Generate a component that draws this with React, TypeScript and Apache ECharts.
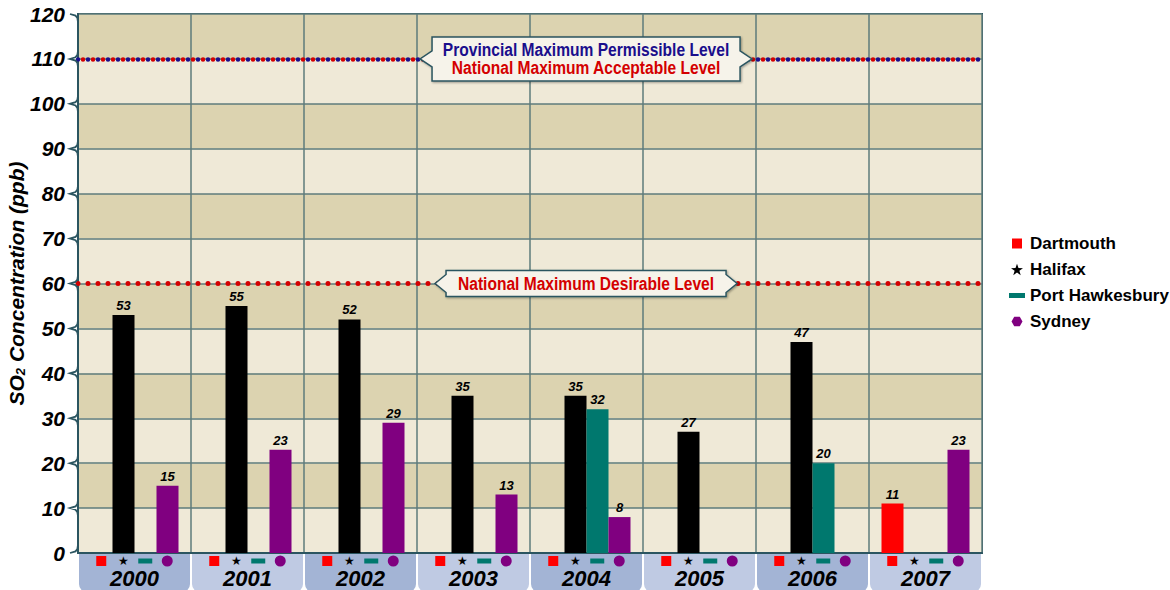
import { useEffect, useRef } from "react";
import * as echarts from "echarts";

// Annual maximum 1-hour SO2 concentrations (ppb) by monitoring station
const years = ["2000", "2001", "2002", "2003", "2004", "2005", "2006", "2007"];
const dartmouth = [null, null, null, null, null, null, null, 11];
const halifax = [53, 55, 52, 35, 35, 27, 47, null];
const portHawkesbury = [null, null, null, null, 32, null, 20, null];
const sydney = [15, 23, 29, 13, 8, null, null, 23];

// Value axis range and step
const yMin = 0;
const yMax = 120;
const yStep = 10;

// Objective levels (ppb)
const provincialPermissible = 110;
const nationalAcceptable = 110;
const nationalDesirable = 60;

const HEAVY = "'Liberation Sans', Arial, sans-serif";

const GRID_LEFT = 78;
const GRID_RIGHT = 188;
const GRID_TOP = 14;
const GRID_BOTTOM = 37;
const WIDTH = 1170;
const HEIGHT = 590;

const RED = "#ff0000";
const BLACK = "#000000";
const TEAL = "#00786e";
const PURPLE = "#800080";
const NAVY = "#1a0e8c";
const DEEP_RED = "#d40000";
const AXIS_DARK = "#2b5560";
const GRID_LINE = "#5e7b7b";

// Legend icons: a leading "M0 0M16 12" fixes the icon box at 16x12 so shapes keep their size
const ICON_SQUARE = "path://M0 0M16 12M3 1H13V11H3Z";
const ICON_STAR =
  "path://M0 0M16 12M8 0.3L9.47 4.58L13.99 4.65L10.38 7.37L11.7 11.7L8 9.1L4.3 11.7L5.62 7.37L2.01 4.65L6.53 4.58Z";
const ICON_BAR = "path://M0 0M16 12M0 3.5H16V8.5H0Z";
const ICON_HEX = "path://M0 0M16 12M2.5 6L5.25 1.24L10.75 1.24L13.5 6L10.75 10.76L5.25 10.76Z";

function arrowBox(cx: number, cy: number, halfW: number, halfH: number, tip: number, notch: number) {
  const l = cx - halfW;
  const r = cx + halfW;
  return [
    [l, cy - halfH],
    [r, cy - halfH],
    [r, cy - notch],
    [r + tip, cy],
    [r, cy + notch],
    [r, cy + halfH],
    [l, cy + halfH],
    [l, cy + notch],
    [l - tip, cy],
    [l, cy - notch],
  ];
}

// Condensed bold caption: a regular bold face squeezed horizontally
function captionEl(x: number, y: number, text: string, color: string) {
  return {
    type: "text",
    x,
    y,
    scaleX: 0.82,
    z: 101,
    silent: true,
    style: {
      text,
      x: 0,
      y: 0,
      fill: color,
      font: `bold 19px ${HEAVY}`,
      align: "center",
      verticalAlign: "middle",
      textAlign: "center",
      textVerticalAlign: "middle",
    },
  };
}

export default function App() {
  const ref = useRef<HTMLDivElement>(null);

  useEffect(() => {
    document.body.style.margin = "0";
    if (!ref.current) return;
    const chart = echarts.init(ref.current, undefined, { renderer: "svg" });

    const barLabel = {
      show: true,
      position: "top",
      distance: 3,
      fontSize: 13,
      fontWeight: "bold",
      fontStyle: "italic",
      fontFamily: HEAVY,
      color: BLACK,
    };

    const dotLine = (color: string, offset: number, width: number) => ({
      color,
      width,
      type: [0.01, 9.99],
      dashOffset: offset,
      cap: "round",
    });

    chart.setOption({
      animation: false,
      backgroundColor: "#ffffff",
      grid: {
        left: GRID_LEFT,
        right: GRID_RIGHT,
        top: GRID_TOP,
        bottom: GRID_BOTTOM,
        outerBoundsMode: "none",
        containLabel: false,
        show: true,
        borderColor: AXIS_DARK,
        borderWidth: 2,
        backgroundColor: "transparent",
      },
      legend: {
        orient: "vertical",
        left: 1004,
        top: 230,
        itemWidth: 16,
        itemHeight: 12,
        itemGap: 9,
        selectedMode: false,
        textStyle: { fontFamily: HEAVY, fontSize: 17, fontWeight: "bold", color: BLACK },
        data: [
          { name: "Dartmouth", icon: ICON_SQUARE },
          { name: "Halifax", icon: ICON_STAR },
          { name: "Port Hawkesbury", icon: ICON_BAR },
          { name: "Sydney", icon: ICON_HEX },
        ],
      },
      xAxis: {
        type: "category",
        data: years.map((y, i) => ({
          value: y,
          textStyle: { backgroundColor: i % 2 === 0 ? "#a3b4d5" : "#bfcae3" },
        })),
        axisLine: { show: true, lineStyle: { color: AXIS_DARK, width: 2 } },
        axisTick: { show: false },
        splitLine: { show: true, lineStyle: { color: GRID_LINE, width: 1.5 } },
        axisLabel: {
          interval: 0,
          margin: 1,
          width: 111,
          align: "center",
          verticalAlign: "top",
          borderRadius: [0, 0, 8, 8],
          padding: [0, 0, 3, 0],
          formatter: (v: string) => `{sq|}{g1|}{st|★}{g2|}{br|}{g3|}{hx|}\n{yr|${v}}`,
          rich: {
            sq: { width: 10, height: 10, backgroundColor: RED, align: "center", lineHeight: 14 },
            g1: { width: 11, align: "center", lineHeight: 14 },
            st: { width: 12, fontSize: 12, color: BLACK, fontFamily: "DejaVu Sans", align: "center", lineHeight: 14 },
            g2: { width: 9, align: "center", lineHeight: 14 },
            br: { width: 14, height: 5, backgroundColor: TEAL, align: "center", lineHeight: 14 },
            g3: { width: 9.5, align: "center", lineHeight: 14 },
            hx: { width: 11, height: 11, backgroundColor: PURPLE, borderRadius: 5.5, align: "center", lineHeight: 14 },
            yr: {
              fontSize: 22,
              fontWeight: "bold",
              fontStyle: "italic",
              fontFamily: HEAVY,
              color: BLACK,
              lineHeight: 21,
              align: "center",
            },
          },
        },
      },
      yAxis: {
        type: "value",
        min: yMin,
        max: yMax,
        interval: yStep,
        name: "{a|SO}{b|2}{a| Concentration (ppb)}",
        nameLocation: "middle",
        nameGap: 51,
        nameMoveOverlap: false,
        nameRotate: 90,
        nameTextStyle: {
          rich: {
            a: {
              fontSize: 21,
              fontWeight: "bold",
              fontStyle: "italic",
              fontFamily: HEAVY,
              color: BLACK,
              verticalAlign: "bottom",
              lineHeight: 24,
            },
            b: {
              fontSize: 13,
              fontWeight: "bold",
              fontStyle: "italic",
              fontFamily: HEAVY,
              color: BLACK,
              verticalAlign: "bottom",
              lineHeight: 24,
            },
          },
        },
        axisLine: { show: true, lineStyle: { color: AXIS_DARK, width: 2 } },
        axisTick: { show: false },
        axisLabel: {
          margin: 13,
          fontSize: 21,
          fontWeight: "bold",
          fontStyle: "italic",
          fontFamily: HEAVY,
          color: BLACK,
        },
        splitLine: { show: true, lineStyle: { color: GRID_LINE, width: 1.5 } },
        splitArea: { show: true, areaStyle: { color: ["#efe9d7", "#dcd3b0"] } },
      },
      series: [
        {
          name: "Dartmouth",
          type: "bar",
          barWidth: 22,
          barGap: "0%",
          itemStyle: { color: RED },
          label: barLabel,
          data: dartmouth,
        },
        {
          name: "Halifax",
          type: "bar",
          barWidth: 22,
          barGap: "0%",
          itemStyle: { color: BLACK },
          label: barLabel,
          data: halifax,
          markLine: {
            silent: true,
            symbol: "none",
            label: { show: false },
            z: 5,
            data: [
              { yAxis: nationalDesirable, lineStyle: dotLine(DEEP_RED, 0, 5) },
              { yAxis: provincialPermissible, lineStyle: dotLine(NAVY, 0, 4.5) },
              { yAxis: nationalAcceptable, lineStyle: dotLine(DEEP_RED, 5, 4.5) },
            ],
          },
        },
        {
          name: "Port Hawkesbury",
          type: "bar",
          barWidth: 22,
          barGap: "0%",
          itemStyle: { color: TEAL },
          label: barLabel,
          data: portHawkesbury,
        },
        {
          name: "Sydney",
          type: "bar",
          barWidth: 22,
          barGap: "0%",
          itemStyle: { color: PURPLE },
          label: barLabel,
          data: sydney,
        },
      ],
    });

    // Brace-shaped notches on the value axis at each tick
    const braces: any[] = [];
    for (let v = yMin; v <= yMax; v += yStep) {
      const py = chart.convertToPixel({ yAxisIndex: 0 }, v) as number;
      const x0 = GRID_LEFT;
      const pts: number[][] = [];
      if (v < yMax) pts.push([x0, py - 8], [x0 - 0.6, py - 4], [x0 - 2.5, py - 1.6], [x0 - 8, py]);
      else pts.push([x0 - 8, py]);
      if (v > yMin) pts.push([x0 - 2.5, py + 1.6], [x0 - 0.6, py + 4], [x0, py + 8]);
      braces.push({
        type: "polyline",
        silent: true,
        z: 50,
        shape: { points: pts },
        style: { stroke: AXIS_DARK, lineWidth: 1.8, fill: null },
      });
    }

    // Callout boxes sit on their objective lines
    const plotW = WIDTH - GRID_LEFT - GRID_RIGHT;
    const cx = GRID_LEFT + plotW * 0.562;
    const yHigh = chart.convertToPixel({ yAxisIndex: 0 }, provincialPermissible) as number;
    const yLow = chart.convertToPixel({ yAxisIndex: 0 }, nationalDesirable) as number;
    const boxStyle = {
      fill: "#f6f3ea",
      stroke: AXIS_DARK,
      lineWidth: 1.5,
      shadowBlur: 2,
      shadowOffsetX: 1,
      shadowOffsetY: 1,
      shadowColor: "rgba(0,0,0,0.35)",
    };
    chart.setOption({
      graphic: [
        ...braces,
        {
          type: "polygon",
          z: 100,
          silent: true,
          shape: { points: arrowBox(cx, yHigh, 154, 22, 12, 8) },
          style: boxStyle,
        },
        captionEl(cx, yHigh - 9, "Provincial Maximum Permissible Level", NAVY),
        captionEl(cx, yHigh + 9, "National Maximum Acceptable Level", DEEP_RED),
        {
          type: "polygon",
          z: 100,
          silent: true,
          shape: { points: arrowBox(cx, yLow, 140, 13, 11, 9) },
          style: boxStyle,
        },
        captionEl(cx, yLow, "National Maximum Desirable Level", DEEP_RED),
      ],
    });

    return () => chart.dispose();
  }, []);

  return <div ref={ref} style={{ width: WIDTH, height: HEIGHT }} />;
}
